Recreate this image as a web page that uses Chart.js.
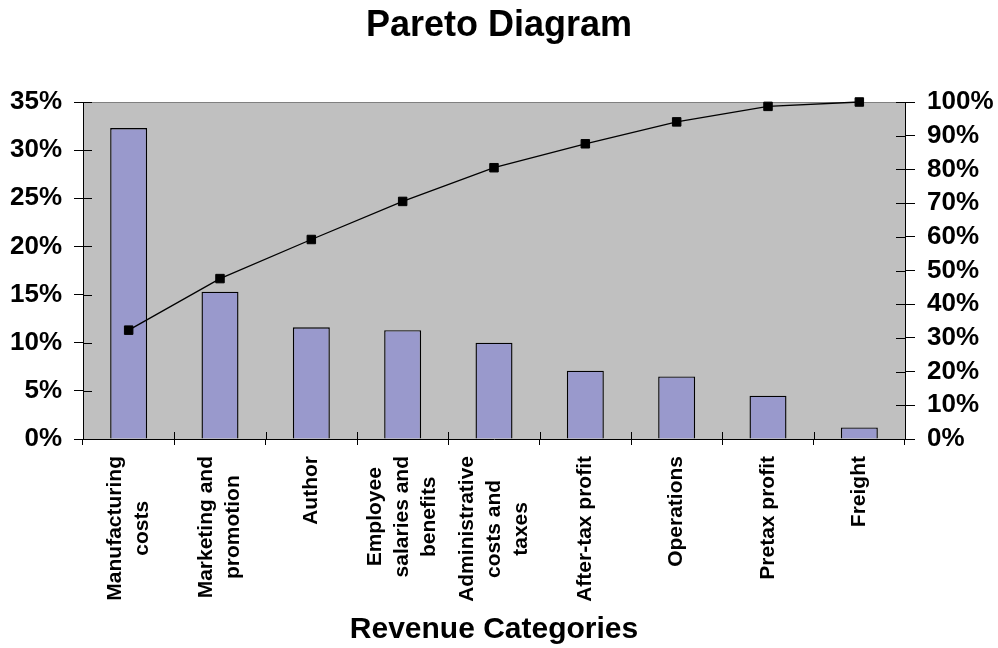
<!DOCTYPE html>
<html>
<head>
<meta charset="utf-8">
<title>Pareto Diagram</title>
<script src="https://cdn.jsdelivr.net/npm/chart.js@4.4.1/dist/chart.umd.min.js"></script>
<style>
  html, body { margin: 0; padding: 0; background: #fff; }
  #wrap { width: 998px; height: 648px; }
</style>
</head>
<body>
<div id="wrap"><canvas id="pareto" width="998" height="648"></canvas></div>
<script>
// Revenue categories (multi-line labels) and their share of revenue, %
const categories = [
    ['Manufacturing', 'costs'],
    ['Marketing and', 'promotion'],
    ['Author'],
    ['Employee', 'salaries and', 'benefits'],
    ['Administrative', 'costs and', 'taxes'],
    ['After-tax profit'],
    ['Operations'],
    ['Pretax profit'],
    ['Freight']
];
const shares = [32.3, 15.3, 11.6, 11.3, 10.0, 7.1, 6.5, 4.5, 1.2];
// running total, right axis
const cumulative = [32.3, 47.6, 59.2, 70.5, 80.5, 87.6, 94.1, 98.7, 100];

const FONT = 'Arial, "Liberation Sans", sans-serif';

// grey plot background + grey top edge
const plotBackground = {
    id: 'plotBackground',
    beforeDraw(chart) {
        const { ctx, chartArea: a } = chart;
        ctx.save();
        ctx.fillStyle = '#c0c0c0';
        ctx.fillRect(a.left, a.top, a.right - a.left, a.bottom - a.top);
        ctx.strokeStyle = '#808080';
        ctx.lineWidth = 1;
        ctx.beginPath();
        ctx.moveTo(a.left, a.top + 0.5);
        ctx.lineTo(a.right, a.top + 0.5);
        ctx.stroke();
        ctx.restore();
    }
};

// tick marks also poke into the plot area (Excel "cross" style)
const innerTicks = {
    id: 'innerTicks',
    beforeDatasetsDraw(chart) {
        const { ctx, chartArea: a, scales } = chart;
        ctx.save();
        ctx.strokeStyle = '#000';
        ctx.lineWidth = 1;
        ctx.beginPath();
        scales.y.ticks.forEach(t => {
            const y = Math.round(scales.y.getPixelForValue(t.value)) + 0.5;
            ctx.moveTo(a.left, y);
            ctx.lineTo(a.left + 9, y);
        });
        scales.y1.ticks.forEach(t => {
            const y = Math.round(scales.y1.getPixelForValue(t.value)) + 0.5;
            ctx.moveTo(a.right - 9, y);
            ctx.lineTo(a.right, y);
        });
        for (let i = 0; i <= categories.length; i++) {
            const x = Math.round(scales.x.getPixelForValue(i - 0.5)) + 0.5;
            ctx.moveTo(x, a.bottom);
            ctx.lineTo(x, a.bottom - 7);
        }
        ctx.stroke();
        ctx.restore();
    }
};

// vertical category labels, lines centred on the longest one
const categoryLabels = {
    id: 'categoryLabels',
    afterDraw(chart) {
        const { ctx, scales } = chart;
        const x = scales.x;
        const lineH = 27;
        ctx.save();
        ctx.font = 'bold 21px ' + FONT;
        ctx.fillStyle = '#000';
        ctx.textAlign = 'center';
        ctx.textBaseline = 'middle';
        categories.forEach((lines, i) => {
            const maxW = Math.max(...lines.map(s => ctx.measureText(s).width));
            ctx.save();
            ctx.translate(x.getPixelForValue(i), x.top + 17 + maxW / 2);
            ctx.rotate(-Math.PI / 2);
            lines.forEach((s, k) => {
                ctx.fillText(s, 0, (k - (lines.length - 1) / 2) * lineH);
            });
            ctx.restore();
        });
        ctx.restore();
    }
};

const ctx = document.getElementById('pareto').getContext('2d');

new Chart(ctx, {
    data: {
        labels: categories,
        datasets: [
            {
                type: 'line',
                label: 'Cumulative',
                data: cumulative,
                yAxisID: 'y1',
                borderColor: '#000',
                borderWidth: 1.3,
                backgroundColor: '#000',
                pointStyle: 'rect',
                pointRadius: 6,
                pointBorderWidth: 1,
                pointBackgroundColor: '#000',
                pointBorderColor: '#000',
                tension: 0,
                clip: false,
                order: 0
            },
            {
                type: 'bar',
                label: 'Share',
                data: shares,
                yAxisID: 'y',
                backgroundColor: '#9999cc',
                borderColor: '#000',
                borderWidth: 1.4,
                barPercentage: 0.405,
                categoryPercentage: 1,
                order: 1
            }
        ]
    },
    options: {
        responsive: false,
        animation: false,
        layout: { padding: 0 },
        plugins: {
            legend: { display: false },
            tooltip: { enabled: false },
            title: {
                display: true,
                text: 'Pareto Diagram',
                color: '#000',
                font: { family: FONT, size: 36, weight: 'bold', lineHeight: 1.2 },
                padding: { top: 4.6, bottom: 54.2 }
            }
        },
        scales: {
            x: {
                type: 'category',
                offset: true,
                grid: {
                    offset: true,
                    drawOnChartArea: false,
                    color: '#000',
                    tickLength: 6
                },
                border: { color: '#000', width: 1 },
                ticks: { display: false },
                title: {
                    display: true,
                    text: 'Revenue Categories',
                    color: '#000',
                    font: { family: FONT, size: 30, weight: 'bold', lineHeight: 1.2 },
                    padding: { top: 0, bottom: 0 }
                },
                afterFit(scale) { scale.height = 209; }
            },
            y: {
                position: 'left',
                min: 0,
                max: 35,
                ticks: {
                    stepSize: 5,
                    autoSkip: false,
                    padding: 12,
                    color: '#000',
                    font: { family: FONT, size: 26, weight: 'bold' },
                    callback: v => v + '%'
                },
                grid: { drawOnChartArea: false, color: '#000', tickLength: 9 },
                border: { color: '#000', width: 1 },
                afterFit(scale) { scale.width = 83; }
            },
            y1: {
                position: 'right',
                min: 0,
                max: 100,
                ticks: {
                    stepSize: 10,
                    autoSkip: false,
                    padding: 12,
                    color: '#000',
                    font: { family: FONT, size: 26, weight: 'bold' },
                    callback: v => v + '%'
                },
                grid: { drawOnChartArea: false, color: '#000', tickLength: 10 },
                border: { color: '#000', width: 1 },
                afterFit(scale) { scale.width = 93; }
            }
        }
    },
    plugins: [plotBackground, innerTicks, categoryLabels]
});
</script>
</body>
</html>
